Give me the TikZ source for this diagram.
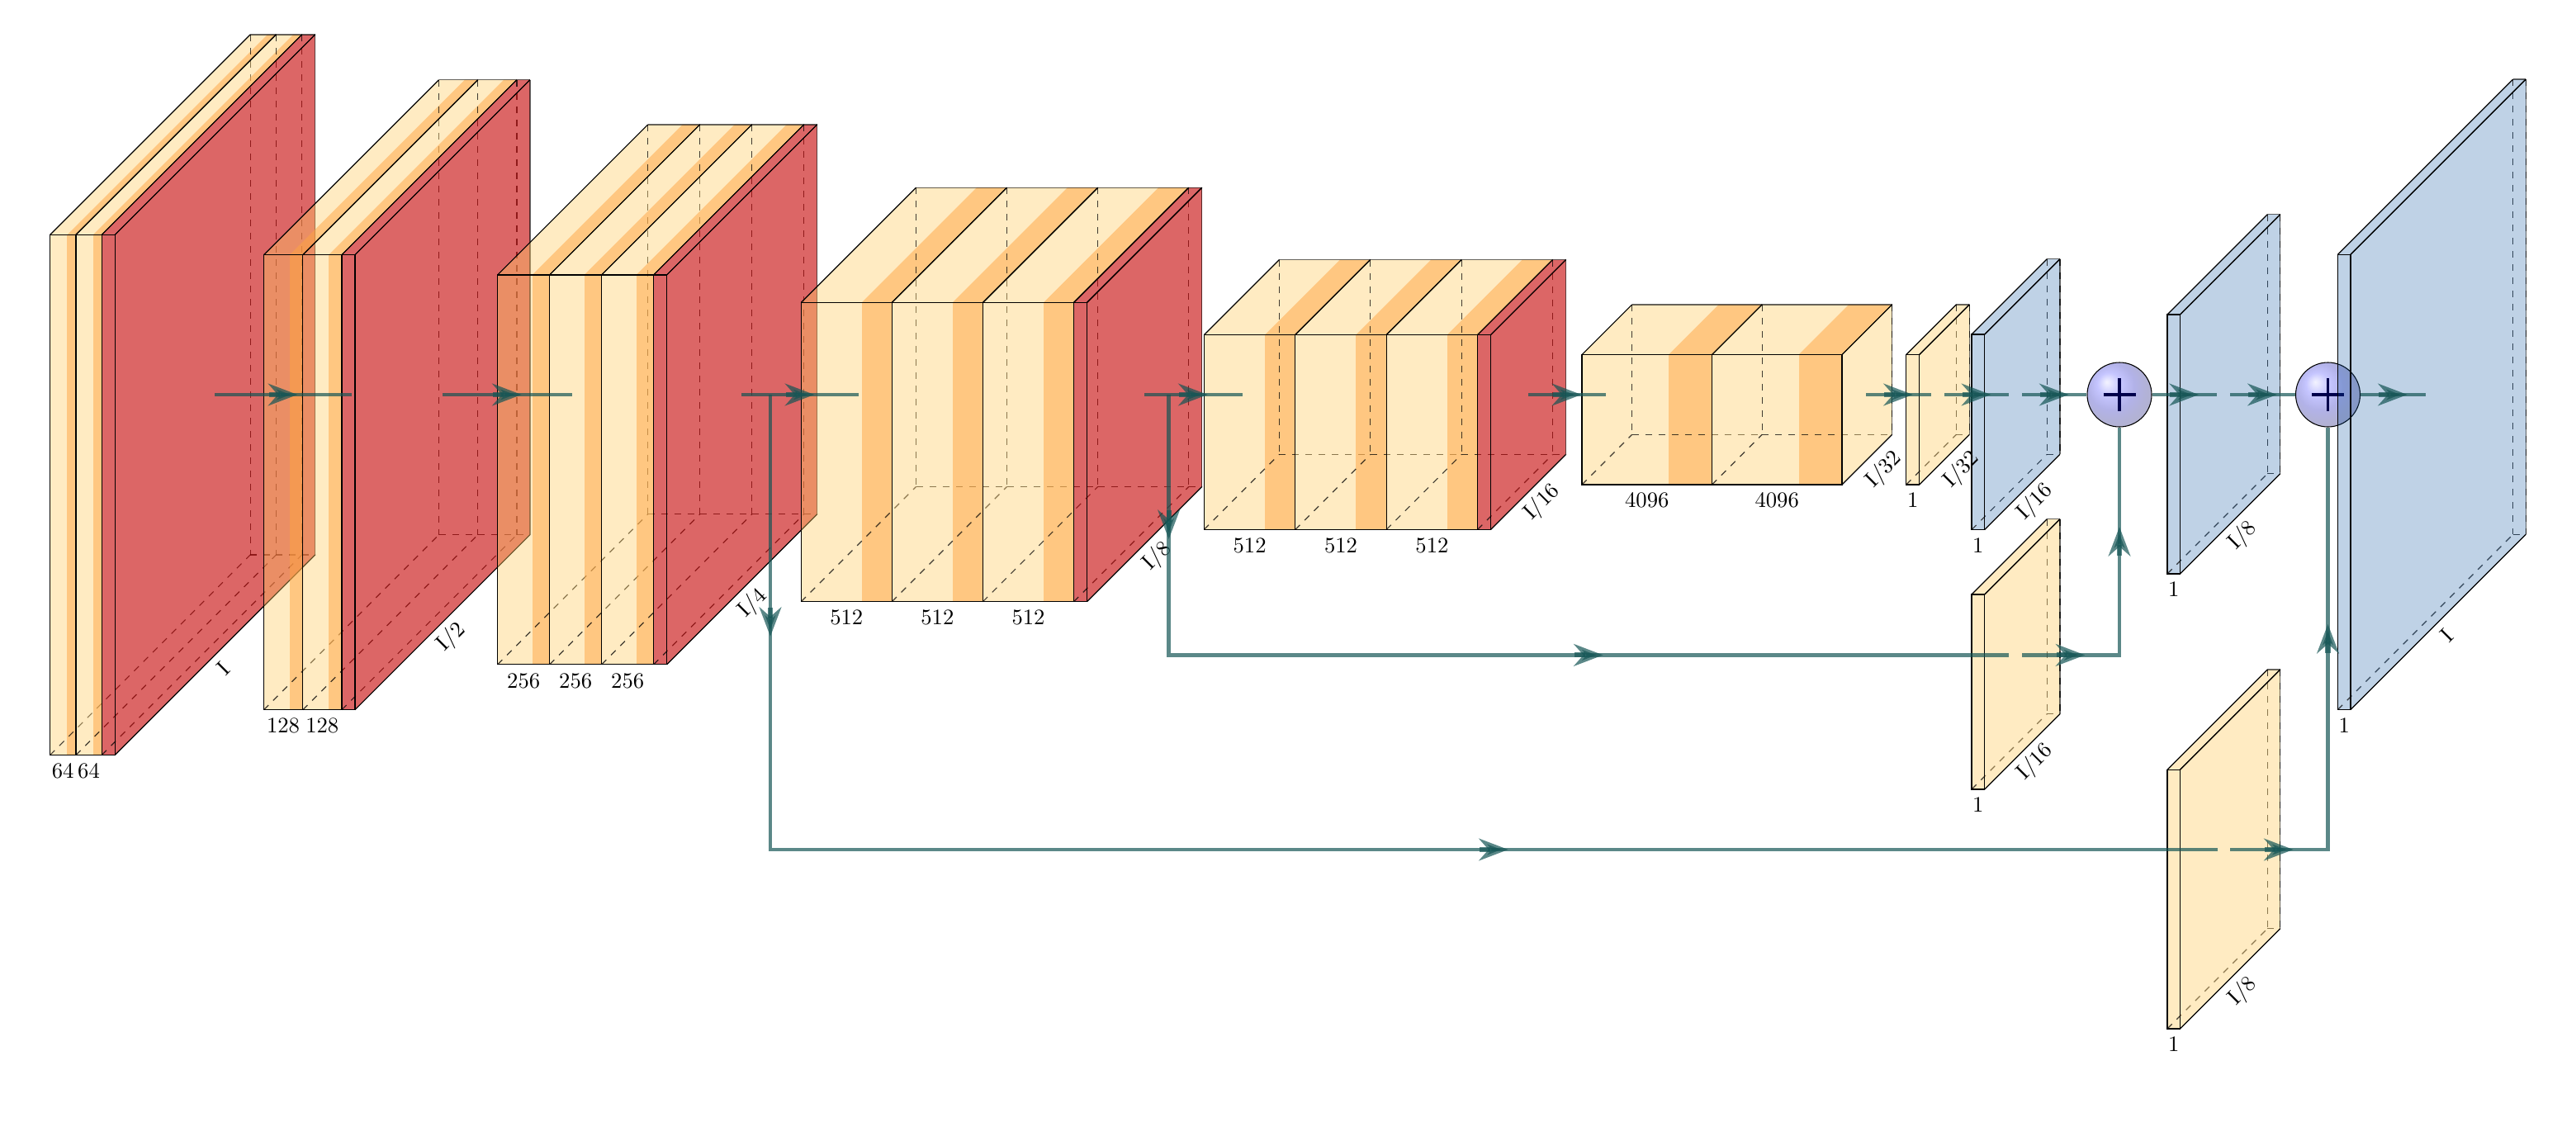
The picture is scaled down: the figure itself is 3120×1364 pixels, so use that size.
\documentclass[tikz,border=0pt]{standalone}
\usepackage{amsmath}
\usepackage{tikz}
\usetikzlibrary{arrows.meta,positioning}

\definecolor{convcol}{RGB}{255,204,102}
\definecolor{bandcol}{RGB}{255,175,75}
\definecolor{poolcol}{RGB}{196,0,0}
\definecolor{upcol}{RGB}{0,77,155}
\definecolor{edgecol}{RGB}{21,85,85}

\tikzset{
    convfill/.style={fill=convcol,fill opacity=.4},
    bandfill/.style={fill=bandcol,fill opacity=.7},
    poolfill/.style={fill=poolcol,fill opacity=.6},
    upfill/.style={fill=upcol,fill opacity=.25},
    edgeline/.style={draw=black,line width=.45pt},
    backline/.style={draw=black,line width=.45pt,draw opacity=.6},
    hiddenline/.style={draw=black,line width=.45pt,dashed,draw opacity=.75},
    connection/.style={ultra thick,draw=edgecol,opacity=.7,every node/.style={sloped,allow upside down,inner sep=0pt}},
    sumball/.style={circle,draw=black,line width=.4pt,minimum size=29.25pt,inner sep=0pt,shading=ball,ball color=blue,fill opacity=.3},
    sumplus/.style={draw=blue!30!black,line width=1.2pt},
    sizelabel/.style={inner sep=0pt},
    depthlabel/.style={inner sep=0pt,rotate=45}
}

\newcommand{\midarrow}{\tikz \draw[-Stealth,line width=.8mm,draw=edgecol] (-13pt,0) -- (0pt,0);}

% x, width, top, bottom, depth
\newcommand{\slabedges}[5]{
    \draw[edgeline] (#1,#3) rectangle (#1+#2,#4);
    \draw[edgeline] (#1,#3) -- ++(#5,-#5);
    \draw[edgeline] (#1+#2,#3) -- ++(#5,-#5);
    \draw[backline] (#1+#5,#3-#5) -- ++(#2,0);
    \draw[hiddenline] (#1+#5,#3-#5) -- ++(0,#4-#3);
    \draw[hiddenline] (#1,#4) -- ++(#5,-#5);
    \draw[hiddenline] (#1+#5,#4-#5) -- ++(#2,0);
}
\newcommand{\convslab}[5]{
    \fill[convfill] (#1,#3) rectangle (#1+2*#2/3,#4);
    \fill[bandfill] (#1+2*#2/3,#3) rectangle (#1+#2,#4);
    \fill[convfill] (#1,#3) -- ++(#5,-#5) -- ++(2*#2/3,0) -- ++(-#5,#5) -- cycle;
    \fill[bandfill] (#1+2*#2/3,#3) -- ++(#5,-#5) -- ++(#2/3,0) -- ++(-#5,#5) -- cycle;
    \slabedges{#1}{#2}{#3}{#4}{#5}
}
% style, x, width, top, bottom, depth
\newcommand{\plainslab}[6]{
    \fill[#1] (#2,#4) rectangle (#2+#3,#5);
    \fill[#1] (#2,#4) -- ++(#6,-#6) -- ++(#3,0) -- ++(-#6,#6) -- cycle;
    \slabedges{#2}{#3}{#4}{#5}{#6}
}
% style, x, top, bottom, depth
\newcommand{\slabend}[5]{
    \fill[#1] (#2,#3) -- ++(#5,-#5) -- ++(0,#4-#3) -- ++(-#5,#5) -- cycle;
    \draw[edgeline] (#2,#3) -- ++(#5,-#5);
    \draw[edgeline] (#2,#4) -- ++(#5,-#5);
    \draw[edgeline] (#2,#3) -- (#2,#4);
    \draw[backline] (#2+#5,#3-#5) -- ++(0,#4-#3);
}
\newcommand{\slabendhid}[5]{
    \slabend{#1}{#2}{#3}{#4}{#5}
    \draw[hiddenline] (#2+#5,#3-#5) -- ++(0,#4-#3);
}

\begin{document}
\begin{tikzpicture}[x=.375pt,y=-.375pt]

    \useasboundingbox (0,0) rectangle (3120,1364);

    \convslab{60.6}{31.3}{284.4}{914.5}{242.5}
    \convslab{91.9}{31.3}{284.4}{914.5}{242.5}
    \plainslab{poolfill}{123.2}{16}{284.4}{914.5}{242.5}
    \slabend{poolfill}{139.2}{284.4}{914.5}{242.5}

    \convslab{319.5}{47.2}{308.7}{859.7}{212}
    \convslab{366.7}{47.2}{308.7}{859.7}{212}
    \plainslab{poolfill}{413.9}{16}{308.7}{859.7}{212}
    \slabend{poolfill}{429.9}{308.7}{859.7}{212}

    \convslab{602.7}{63}{332.9}{804.8}{182}
    \convslab{665.7}{63}{332.9}{804.8}{182}
    \convslab{728.7}{63}{332.9}{804.8}{182}
    \plainslab{poolfill}{791.7}{16}{332.9}{804.8}{182}
    \slabend{poolfill}{807.7}{332.9}{804.8}{182}

    \convslab{970.2}{110.1}{366.5}{728.7}{139.3}
    \convslab{1080.3}{110.1}{366.5}{728.7}{139.3}
    \convslab{1190.4}{110.1}{366.5}{728.7}{139.3}
    \plainslab{poolfill}{1300.5}{16}{366.5}{728.7}{139.3}
    \slabend{poolfill}{1316.5}{366.5}{728.7}{139.3}

    \convslab{1458.4}{110.4}{405.5}{641.4}{91}
    \convslab{1568.8}{110.4}{405.5}{641.4}{91}
    \convslab{1679.2}{110.4}{405.5}{641.4}{91}
    \plainslab{poolfill}{1789.6}{16}{405.5}{641.4}{91}
    \slabend{poolfill}{1805.6}{405.5}{641.4}{91}

    \convslab{1916}{157.5}{429.6}{587}{60.7}
    \convslab{2073.5}{157.5}{429.6}{587}{60.7}
    \slabendhid{convfill}{2231}{429.6}{587}{60.7}

    \plainslab{convfill}{2308.7}{16}{429.6}{587}{60.7}
    \slabendhid{convfill}{2324.7}{429.6}{587}{60.7}

    \plainslab{upfill}{2388}{15.7}{405}{641.6}{91.3}
    \slabendhid{upfill}{2403.7}{405}{641.6}{91.3}

    \plainslab{convfill}{2388}{15.7}{720}{956}{91.3}
    \slabendhid{convfill}{2403.7}{720}{956}{91.3}

    \node[sumball] (add1) at (2567,478) {};
    \draw[sumplus] (add1.center) +(-19.5,0) -- +(19.5,0) +(0,-20) -- +(0,20);

    \plainslab{upfill}{2625}{15.5}{381}{695}{121.3}
    \slabendhid{upfill}{2640.5}{381}{695}{121.3}

    \plainslab{convfill}{2625}{15.5}{932.3}{1246}{121.3}
    \slabendhid{convfill}{2640.5}{932.3}{1246}{121.3}

    \node[sumball] (add2) at (2819.5,478) {};
    \draw[sumplus] (add2.center) +(-19.5,0) -- +(19.5,0) +(0,-20) -- +(0,20);

    \plainslab{upfill}{2831.4}{15.6}{308.3}{859.5}{212.3}
    \slabendhid{upfill}{2847}{308.3}{859.5}{212.3}

    \foreach \lname/\xpos/\ypos/\ltext in {
        s1/76.2/933.7/64, s2/107.5/933.7/64,
        s3/343/879/128, s4/390.3/879/128,
        s5/634.2/824.6/256, s6/697.2/824.6/256, s7/760.2/824.6/256,
        s8/1025.3/747.6/512, s9/1135.4/747.6/512, s10/1245.5/747.6/512,
        s11/1513.6/661/512, s12/1624/661/512, s13/1734.4/661/512,
        s14/1994.8/606/4096, s15/2152.2/606/4096,
        s16/2316.7/606/1, s17/2395.8/660.5/1, s18/2395.8/975/1,
        s19/2632.7/714/1, s20/2632.7/1265/1, s21/2839.2/878.5/1}
        \node[sizelabel] (\lname) at (\xpos,\ypos) {\ltext};

    \foreach \lname/\xpos/\ypos/\ltext in {
        d1/270/810/I, d2/547/771.7/I\slash 2, d3/912/731/I\slash 4,
        d4/1402/674/I\slash 8, d5/1868/608.7/I\slash 16,
        d6/2282/569/I\slash 32, d7/2376/569/I\slash 32,
        d8/2465/608/I\slash 16, d9/2465/923/I\slash 16,
        d10/2716.7/649/I\slash 8, d11/2716.3/1201/I\slash 8,
        d12/2963.4/769.4/I}
        \node[depthlabel] (\lname) at (\xpos,\ypos) {\ltext};

    \coordinate (c1a) at (260,478);
    \coordinate (c1b) at (426,478);
    \coordinate (c2a) at (535.7,478);
    \coordinate (c2b) at (693,478);
    \coordinate (c3a) at (898,478);
    \coordinate (c3b) at (1040,478);
    \coordinate (c4a) at (1386,478);
    \coordinate (c4b) at (1504.7,478);
    \coordinate (c5a) at (1851,478);
    \coordinate (c5b) at (1945,478);
    \coordinate (c6a) at (2260,478);
    \coordinate (c6b) at (2339,478);
    \coordinate (c7a) at (2355,478);
    \coordinate (c7b) at (2433,478);
    \coordinate (c8a) at (2449,478);
    \coordinate (c9b) at (2685,478);
    \coordinate (c10a) at (2701,478);
    \coordinate (c11b) at (2937.7,478);

    \draw[connection] (c1a) -- node {\midarrow} (c1b);
    \draw[connection] (c2a) -- node {\midarrow} (c2b);
    \draw[connection] (c3a) -- node {\midarrow} (c3b);
    \draw[connection] (c4a) -- node {\midarrow} (c4b);
    \draw[connection] (c5a) -- node {\midarrow} (c5b);
    \draw[connection] (c6a) -- node {\midarrow} (c6b);
    \draw[connection] (c7a) -- node {\midarrow} (c7b);
    \draw[connection] (c8a) -- node {\midarrow} (add1.west);
    \draw[connection] (add1.east) -- node {\midarrow} (c9b);
    \draw[connection] (c10a) -- node {\midarrow} (add2.west);
    \draw[connection] (add2.east) -- node {\midarrow} (c11b);

    \coordinate (k1a) at (1415.6,478);
    \coordinate (k1b) at (1415.6,793.4);
    \coordinate (k1c) at (2433,793.4);
    \coordinate (k1d) at (2449,793.4);
    \coordinate (k1e) at (2567,793.4);
    \coordinate (k2a) at (933,478);
    \coordinate (k2b) at (933,1029);
    \coordinate (k2c) at (2685.8,1029);
    \coordinate (k2d) at (2701,1029);
    \coordinate (k2e) at (2819.5,1029);

    \draw[connection] (k1a) -- node {\midarrow} (k1b) -- node {\midarrow} (k1c);
    \draw[connection] (k1d) -- node {\midarrow} (k1e) -- node {\midarrow} (add1.south);
    \draw[connection] (k2a) -- node {\midarrow} (k2b) -- node {\midarrow} (k2c);
    \draw[connection] (k2d) -- node {\midarrow} (k2e) -- node {\midarrow} (add2.south);

\end{tikzpicture}
\end{document}
